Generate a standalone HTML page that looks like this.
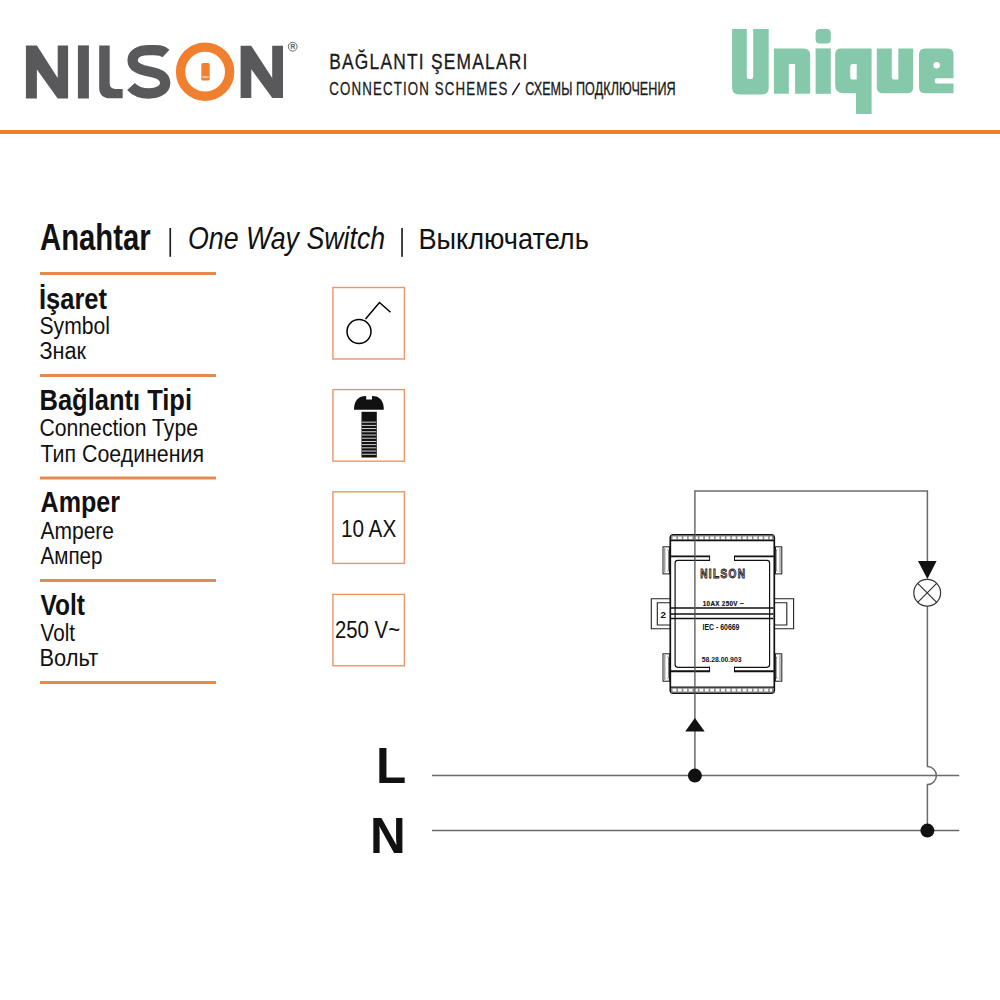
<!DOCTYPE html>
<html>
<head>
<meta charset="utf-8">
<style>
html,body{margin:0;padding:0;background:#fff;}
body{width:1000px;height:1000px;overflow:hidden;position:relative;}
svg{position:absolute;left:0;top:0;display:block;}
text{font-family:"Liberation Sans",sans-serif;}
</style>
</head>
<body>
<svg width="1000" height="1000" viewBox="0 0 1000 1000">
<!-- ===== HEADER: NILSON LOGO ===== -->
<g fill="#59595b">
  <path d="M25.9,98.5V45.4H36.9L57.7,78V45.4H68.1V98.5H57.7L36.9,69.5V98.5Z"/>
  <rect x="77.9" y="45.4" width="11" height="53.1"/>
  <path d="M99.2,45.5H109.7V83Q109.7,88.9 115.6,88.9H122.7V98.3H110Q99.2,98.3 99.2,87.5Z"/>
  <path d="M240.6,98V45.75H251.2L272.2,78V45.75H283V98H272.3L251.3,69.2V98Z"/>
</g>
<path d="M166,53.5C161,49 155,50.2 149,50.2C139,50.2 132.6,54 132.6,60.5C132.6,67 139,69.5 149,71.5C159,73.5 165.2,76 165.2,83C165.2,89.5 158,93.5 149,93.5C141,93.5 135,91 131,86.5" fill="none" stroke="#59595b" stroke-width="10.3"/>
<circle cx="205.1" cy="71.7" r="24.55" fill="none" stroke="#f07f2e" stroke-width="9.3"/>
<rect x="201.3" y="63" width="8.4" height="17.5" rx="1.6" fill="#f07f2e"/>
<rect x="202.3" y="76.5" width="6.4" height="1.1" fill="#fff3e8"/>
<circle cx="292.7" cy="46.7" r="4.4" fill="none" stroke="#59595b" stroke-width="0.9"/>
<text x="290.4" y="49.4" font-size="6.6" font-weight="bold" fill="#59595b">R</text>

<!-- ===== HEADER TEXT ===== -->
<g fill="#1a1a1a" stroke="#1a1a1a">
<text transform="translate(329.2,69.3) scale(0.79,1)" x="0" y="0" font-size="22" textLength="250.9" lengthAdjust="spacing" stroke-width="0.3">BAĞLANTI ŞEMALARI</text>
<text transform="translate(329.2,95) scale(0.74,1)" x="0" y="0" font-size="18" textLength="240.8" lengthAdjust="spacing" stroke-width="0.3">CONNECTION SCHEMES</text>
<path d="M512.3,95L519.7,82.8" stroke-width="1.5"/>
<text transform="translate(525.2,95) scale(0.7,1)" x="0" y="0" font-size="18" textLength="215" lengthAdjust="spacing" stroke-width="0.35">СХЕМЫ ПОДКЛЮЧЕНИЯ</text>
</g>

<!-- ===== UNIQUE LOGO ===== -->
<g fill="#86c8aa">
  <path d="M732.1,29.1H746.8V77Q746.8,78.9 748.8,78.9H751.2Q753.2,78.9 753.2,77V29.1H768.7V87.4Q768.7,94.4 761.7,94.4H739.1Q732.1,94.4 732.1,87.4Z"/>
  <path d="M773.9,93.8V48.4H803.6Q810.2,48.4 810.2,55V93.8H795.1V64H788.8V93.8Z"/>
  <rect x="815.6" y="29.1" width="15.2" height="14.3" rx="4"/>
  <rect x="815.6" y="48.4" width="15.2" height="45.4"/>
  <path fill-rule="evenodd" d="M841,48.4H871.6V114H856V93.3H843.5Q835.2,93.3 835.2,85V54.2Q835.2,48.4 841,48.4ZM852.5,64Q850.2,64 850.2,66.5V77Q850.2,79.6 852.5,79.6H856.7V64Z"/>
  <path d="M876.8,48.4H891.8V77Q891.8,79.6 894.5,79.6H898.3V48.4H913.2V87Q913.2,93.3 907,93.3H883Q876.8,93.3 876.8,87Z"/>
  <path fill-rule="evenodd" d="M925,48.4H947.5Q953.5,48.4 953.5,54.4V78.3H936.5Q934.7,78.3 934.7,81Q934.7,83.5 936.5,83.5H953.5V93.3H925Q919,93.3 919,87.3V54.4Q919,48.4 925,48.4ZM936.6,62Q933.4,62 933.4,65.3Q933.4,68.6 936.6,68.6Q939.9,68.6 939.9,65.3Q939.9,62 936.6,62Z"/>
</g>

<!-- ===== ORANGE HEADER LINE ===== -->
<rect x="0" y="130" width="1000" height="4" fill="#ef7f2f"/>

<!-- ===== TITLE ===== -->
<text x="40" y="249.5" font-size="36" font-weight="bold" textLength="110.7" lengthAdjust="spacingAndGlyphs" fill="#111">Anahtar</text>
<rect x="169.4" y="228" width="1.7" height="28.8" fill="#222"/>
<text x="188.00" y="249" font-size="30.5" font-style="italic" textLength="197.20" lengthAdjust="spacingAndGlyphs" fill="#111">One Way Switch</text>
<rect x="401.2" y="228" width="1.7" height="28.8" fill="#222"/>
<text x="418.45" y="249" font-size="30" textLength="170.40" lengthAdjust="spacingAndGlyphs" fill="#111">Выключатель</text>

<!-- ===== LEFT TABLE ===== -->
<g fill="#e38a4c">
  <rect x="40" y="272" width="176" height="3"/>
  <rect x="40" y="374" width="176" height="3"/>
  <rect x="40" y="476.5" width="176" height="3"/>
  <rect x="40" y="579" width="176" height="3"/>
  <rect x="40" y="681" width="176" height="3"/>
</g>
<g fill="#111">
  <text x="39.00" y="309" font-size="29" font-weight="bold" textLength="68.00" lengthAdjust="spacingAndGlyphs">İşaret</text>
  <text x="39.50" y="334" font-size="23" textLength="70.50" lengthAdjust="spacingAndGlyphs">Symbol</text>
  <text x="39.50" y="359" font-size="23" textLength="46.60" lengthAdjust="spacingAndGlyphs">Знак</text>

  <text x="39.50" y="410" font-size="29" font-weight="bold" textLength="152.50" lengthAdjust="spacingAndGlyphs">Bağlantı Tipi</text>
  <text x="39.50" y="436.4" font-size="23" textLength="158.50" lengthAdjust="spacingAndGlyphs">Connection Type</text>
  <text x="40.50" y="462" font-size="23" textLength="163.50" lengthAdjust="spacingAndGlyphs">Тип Соединения</text>

  <text x="40.5" y="512.2" font-size="29" font-weight="bold" textLength="79.5" lengthAdjust="spacingAndGlyphs">Amper</text>
  <text x="40.50" y="538.6" font-size="23" textLength="73.50" lengthAdjust="spacingAndGlyphs">Ampere</text>
  <text x="40.5" y="564.2" font-size="23" textLength="62" lengthAdjust="spacingAndGlyphs">Ампер</text>

  <text x="40.5" y="615.2" font-size="29" font-weight="bold" textLength="44.5" lengthAdjust="spacingAndGlyphs">Volt</text>
  <text x="40.5" y="640.5" font-size="23" textLength="34.5" lengthAdjust="spacingAndGlyphs">Volt</text>
  <text x="39.50" y="665.8" font-size="23" textLength="58.70" lengthAdjust="spacingAndGlyphs">Вольт</text>
</g>

<!-- ===== ICON BOXES ===== -->
<g fill="none" stroke="#e9976a" stroke-width="1.4">
  <rect x="332.9" y="287.5" width="71.5" height="71.5"/>
  <rect x="332.9" y="389.6" width="71.5" height="71.6"/>
  <rect x="332.9" y="491.8" width="71.5" height="71.6"/>
  <rect x="332.9" y="594.4" width="71.5" height="71.4"/>
</g>
<!-- switch symbol -->
<g fill="none" stroke="#000" stroke-width="1.5">
  <circle cx="359" cy="331.5" r="12"/>
  <path d="M365.5,319L379.5,302.5L390.5,312.2"/>
</g>
<!-- screw -->
<g fill="#111">
  <path d="M354,409.8Q354,396 366.2,396V399.5H372V396Q383.8,396 383.8,409.8Z"/>
  <rect x="361.5" y="411.8" width="15.3" height="45.7"/>
</g>
<g fill="#e8e8e8"><rect x="362" y="421.70" width="14.3" height="0.9"/><rect x="362" y="424.91" width="14.3" height="0.9"/><rect x="362" y="428.12" width="14.3" height="0.9"/><rect x="362" y="431.33" width="14.3" height="0.9"/><rect x="362" y="434.54" width="14.3" height="0.9"/><rect x="362" y="437.75" width="14.3" height="0.9"/><rect x="362" y="440.96" width="14.3" height="0.9"/><rect x="362" y="444.17" width="14.3" height="0.9"/><rect x="362" y="447.38" width="14.3" height="0.9"/><rect x="362" y="450.59" width="14.3" height="0.9"/><rect x="362" y="453.80" width="14.3" height="0.9"/></g>
<text x="341.00" y="536.6" font-size="24" textLength="55.20" lengthAdjust="spacingAndGlyphs" fill="#111">10 AX</text>
<text x="335.00" y="638.4" font-size="24" textLength="65.00" lengthAdjust="spacingAndGlyphs" fill="#111">250 V~</text>

<!-- ===== L / N ===== -->
<text x="376" y="783" font-size="49.5" font-weight="bold" fill="#111">L</text>
<text x="370" y="852.5" font-size="49.5" font-weight="bold" fill="#111">N</text>

<!-- ===== WIRES ===== -->
<g fill="none" stroke="#6a6a6a" stroke-width="1.5">
  <path d="M432,775.6H959.3"/>
  <path d="M432,830.6H959.3"/>
  <path d="M694.9,775.6V491H927.4V561"/>
  <path d="M927.4,606.2V766.6A9,9 0 0 1 927.4,784.6V830.6"/>
</g>
<circle cx="694.9" cy="775.6" r="7" fill="#111"/>
<circle cx="927.4" cy="830.6" r="7" fill="#111"/>
<!-- arrows -->
<path d="M685.2,731.5L694.9,718L704.7,731.5Z" fill="#111"/>
<path d="M918,561H936.6L927.4,579Z" fill="#111"/>
<!-- lamp -->
<g fill="none" stroke="#333" stroke-width="1.2">
  <circle cx="927.2" cy="592.8" r="13.4"/>
  <path d="M917.7,583.3L936.7,602.3M936.7,583.3L917.7,602.3"/>
</g>

<!-- ===== SWITCH MODULE ===== -->
<g id="module">
  <!-- side terminals -->
  <g fill="#fff" stroke="#222" stroke-width="1.1">
    <path d="M670.6,598.8H651.3V628.8H670.6"/>
    <path d="M670.6,602.8H657.3V625H670.6"/>
    <path d="M773.6,598.8H793.6V628.8H773.6"/>
    <path d="M773.6,602.8H786.8V625H773.6"/>
  </g>
  <text x="660.4" y="617.6" font-size="9.8" font-weight="bold" fill="#111">2</text>
  <!-- tabs -->
  <g fill="#fff" stroke="#1a1a1a" stroke-width="1">
    <rect x="663" y="546.8" width="6.4" height="27.1"/>
    <rect x="775.4" y="546.8" width="6.4" height="27.1"/>
    <rect x="663" y="653.8" width="6.4" height="27.4"/>
    <rect x="775.4" y="653.8" width="6.4" height="27.4"/>
  </g>
  <g fill="none" stroke="#555" stroke-width="0.8">
    <path d="M664.8,548V572.5M667.6,549.5L668.6,551V569.8L667.6,571.5M780,548V572.5M777.2,549.5L776.2,551V569.8L777.2,571.5"/>
    <path d="M664.8,655V680M667.6,656.5L668.6,658V677L667.6,678.8M780,655V680M777.2,656.5L776.2,658V677L777.2,678.8"/>
  </g>
  <!-- body -->
  <path d="M670.3,690V538Q670.3,534.8 673.5,534.8H771.1Q774.3,534.8 774.3,538V690Q774.3,693.2 771.1,693.2H673.5Q670.3,693.2 670.3,690Z" fill="#fff" stroke="#111" stroke-width="1.7"/>
  <!-- knurl strips -->
  <rect x="671" y="535.4" width="102.5" height="5" fill="#8a8a8a"/>
  <path d="M672.5,537.9H772" stroke="#fff" stroke-width="2.6" stroke-dasharray="3.8 1.6" fill="none"/>
  <rect x="671" y="687.6" width="102.5" height="5" fill="#8a8a8a"/>
  <path d="M672.5,690.1H772" stroke="#fff" stroke-width="2.6" stroke-dasharray="3.8 1.6" fill="none"/>
  <path d="M670.5,540.5H774M670.5,687.1H774" stroke="#111" stroke-width="1.3"/>
  <!-- inner frame -->
  <g fill="none" stroke="#111">
    <path d="M671,556.4H709.6M734.5,556.4H773.8M671,671.3H709.6M734.5,671.3H773.8" stroke-width="1.9"/>
    <path d="M709.6,560.4H677.8Q675.1,560.4 675.1,563.1V664.6Q675.1,667.3 677.8,667.3H709.6" stroke-width="1.2"/>
    <path d="M734.5,560.4H766.9Q769.6,560.4 769.6,563.1V664.6Q769.6,667.3 766.9,667.3H734.5" stroke-width="1.2"/>
    <path d="M709.6,555.6V561M734.5,555.6V561M709.6,666.6V672.2M734.5,666.6V672.2" stroke-width="1"/>
    <!-- middle bands -->
    <path d="M671,608H773.5M671,614H773.5M671,618.6H773.5" stroke-width="1.5"/>
  </g>
  <!-- module labels -->
  <text transform="translate(700.2,577.6) scale(0.8,1)" x="0" y="0" font-size="12.6" font-weight="bold" textLength="56" lengthAdjust="spacing" fill="#b5b5b5" stroke="#222" stroke-width="0.9">NILSON</text>
  <text transform="translate(702.8,605.7) scale(0.9,1)" x="0" y="0" font-size="7" font-weight="bold" textLength="45.3" lengthAdjust="spacing" fill="#111" stroke="#111" stroke-width="0.2">10AX 250V ~</text>
  <text x="702.6" y="629.8" font-size="8.4" font-weight="bold" textLength="36.8" lengthAdjust="spacingAndGlyphs" fill="#111">IEC - 60669</text>
  <text x="701.7" y="661.8" font-size="7.4" font-weight="bold" textLength="39.8" lengthAdjust="spacingAndGlyphs" fill="#111">58.28.00.903</text>
  <!-- wire through module -->
  <path d="M694.9,534V694" stroke="#555" stroke-width="1.3"/>
</g>

</svg>
</body>
</html>
